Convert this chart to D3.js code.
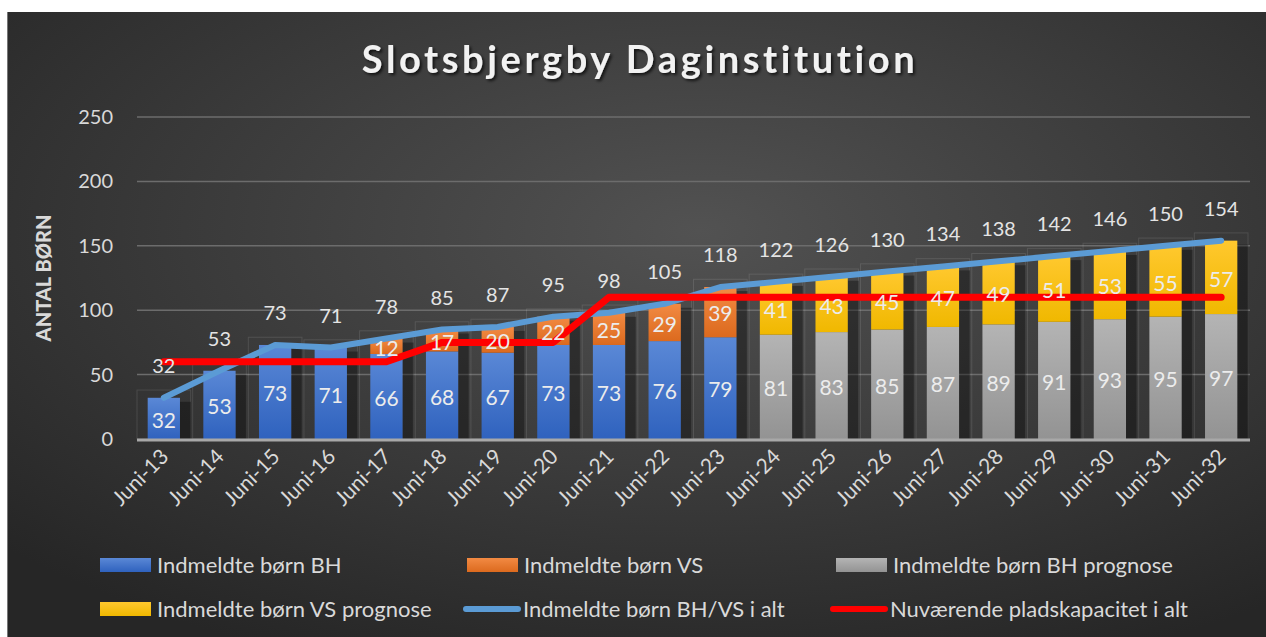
<!DOCTYPE html>
<html>
<head>
<meta charset="utf-8">
<script src="https://d3js.org/d3.v7.min.js"></script>
<style>
  body { margin: 0; background: #fff; }
  text { font-family: Lato, "Open Sans", sans-serif; }
</style>
</head>
<body>
<svg id="chart" width="1266" height="637"></svg>
<script>
// categories and series
const categories = ["Juni-13","Juni-14","Juni-15","Juni-16","Juni-17","Juni-18","Juni-19","Juni-20","Juni-21","Juni-22",
                    "Juni-23","Juni-24","Juni-25","Juni-26","Juni-27","Juni-28","Juni-29","Juni-30","Juni-31","Juni-32"];
const bh      = [32,53,73,71,66,68,67,73,73,76,79,0,0,0,0,0,0,0,0,0];
const vs      = [0,0,0,0,12,17,20,22,25,29,39,0,0,0,0,0,0,0,0,0];
const bhProg  = [0,0,0,0,0,0,0,0,0,0,0,81,83,85,87,89,91,93,95,97];
const vsProg  = [0,0,0,0,0,0,0,0,0,0,0,41,43,45,47,49,51,53,55,57];
const total   = [32,53,73,71,78,85,87,95,98,105,118,122,126,130,134,138,142,146,150,154];
const capacity= [60,60,60,60,60,75,75,75,110,110,110,110,110,110,110,110,110,110,110,110];
const yTicks  = [0,50,100,150,200,250];

const seriesNames = ["Indmeldte børn BH","Indmeldte børn VS","Indmeldte børn BH prognose",
                     "Indmeldte børn VS prognose","Indmeldte børn BH/VS i alt","Nuværende pladskapacitet i alt"];

const svg = d3.select("#chart");
const defs = svg.append("defs");

// background gradient
const bg = defs.append("radialGradient").attr("id","bg")
  .attr("cx","55%").attr("cy","35%").attr("r","75%");
bg.append("stop").attr("offset","0%").attr("stop-color","#525252");
bg.append("stop").attr("offset","100%").attr("stop-color","#262626");

function vgrad(id, top, bottom) {
  const g = defs.append("linearGradient").attr("id", id).attr("x1",0).attr("x2",0).attr("y1",0).attr("y2",1);
  g.append("stop").attr("offset","0%").attr("stop-color", top);
  g.append("stop").attr("offset","100%").attr("stop-color", bottom);
}
vgrad("gBH", "#5a88d6", "#2f62be");
vgrad("gVS", "#f28a43", "#dc6a1e");
vgrad("gBHP", "#b4b4b4", "#939393");
vgrad("gVSP", "#ffc82e", "#f0b800");

const shadow = defs.append("filter").attr("id","tshadow").attr("x","-10%").attr("y","-30%").attr("width","130%").attr("height","170%");
shadow.append("feDropShadow").attr("dx",2).attr("dy",2).attr("stdDeviation",1.5).attr("flood-color","#000").attr("flood-opacity",0.7);

svg.append("rect").attr("x",7).attr("y",12).attr("width",1259).attr("height",625).attr("fill","url(#bg)");
svg.append("line").attr("x1",7.5).attr("x2",7.5).attr("y1",12).attr("y2",637).attr("stroke","#777").attr("stroke-width",1);

const x = d3.scaleBand().domain(categories).range([136, 1249]).paddingInner(0.42).paddingOuter(0.21);
const y = d3.scaleLinear().domain([0, 250]).range([439, 117]);
const cx = d => x(d) + x.bandwidth() / 2;

// gridlines
svg.append("g").selectAll("line").data(yTicks.filter(t => t > 0)).join("line")
  .attr("x1",137).attr("x2",1250).attr("y1",d => y(d)).attr("y2",d => y(d))
  .attr("stroke","#6c6c6c").attr("stroke-width",1.5);

// faint 3D frame boxes behind bars
const step = x.step();
svg.append("g").selectAll("rect").data(categories).join("rect")
  .attr("x",(d,i) => cx(d) - step/2 + 1).attr("width", step - 2)
  .attr("y",(d,i) => y(total[i] + 6)).attr("height",(d,i) => y(0) - y(total[i] + 6))
  .attr("fill","none").attr("stroke","rgba(255,255,255,0.11)").attr("stroke-width",1);

// y axis labels
svg.append("g").selectAll("text").data(yTicks).join("text")
  .attr("x",113).attr("y",d => y(d)).attr("dy","0.35em").attr("text-anchor","end")
  .attr("fill","#d9d9d9").attr("font-size",20).text(d => d);

svg.append("text").attr("transform","translate(44,278) rotate(-90)")
  .attr("text-anchor","middle").attr("dy","0.35em")
  .attr("fill","#d9d9d9").attr("font-size",20).attr("font-weight","900").text("ANTAL BØRN");

// stacked bars
const stackKeys = ["bh","vs","bhProg","vsProg"];
const fills = {bh:"url(#gBH)", vs:"url(#gVS)", bhProg:"url(#gBHP)", vsProg:"url(#gVSP)"};
const rows = categories.map((c,i) => ({cat:c, bh:bh[i], vs:vs[i], bhProg:bhProg[i], vsProg:vsProg[i]}));
const stacked = d3.stack().keys(stackKeys)(rows);

// bar shadows
svg.append("g").selectAll("rect").data(categories).join("rect")
  .attr("x",d => x(d) + x.bandwidth()).attr("width",11)
  .attr("y",(d,i) => y(total[i]) + 4).attr("height",(d,i) => y(0) - y(total[i]) - 4)
  .attr("fill","rgba(0,0,0,0.35)");

const layers = svg.append("g").selectAll("g").data(stacked).join("g").attr("fill", d => fills[d.key]);
layers.selectAll("rect").data(d => d.filter(s => s[1] > s[0])).join("rect")
  .attr("x", d => x(d.data.cat)).attr("width", x.bandwidth())
  .attr("y", d => y(d[1])).attr("height", d => y(d[0]) - y(d[1]));

// baseline
svg.append("line").attr("x1",137).attr("x2",1250).attr("y1",440).attr("y2",440)
  .attr("stroke","#a8a8a8").attr("stroke-width",3);

// lines
const line = d3.line().x((d,i) => cx(categories[i])).y(d => y(d));
svg.append("path").datum(total).attr("d", line).attr("fill","none")
  .attr("stroke","#5b9bd5").attr("stroke-width",6).attr("stroke-linecap","round").attr("stroke-linejoin","round");
svg.append("path").datum(capacity).attr("d", line).attr("fill","none")
  .attr("stroke","#ff0000").attr("stroke-width",7).attr("stroke-linecap","round").attr("stroke-linejoin","round");

// segment labels (drawn above the lines)
svg.append("g").selectAll("g").data(stacked).join("g")
  .selectAll("text").data(d => d.filter(s => s[1] > s[0])).join("text")
  .attr("x", d => cx(d.data.cat)).attr("y", d => (y(d[0]) + y(d[1])) / 2 + 2)
  .attr("dy","0.35em").attr("text-anchor","middle")
  .attr("fill","#ececec").attr("font-size",21)
  .text(d => d[1] - d[0]);

// total labels
svg.append("g").selectAll("text").data(total).join("text")
  .attr("x",(d,i) => cx(categories[i])).attr("y", d => y(d) - 32).attr("dy","0.35em")
  .attr("text-anchor","middle").attr("fill","#e4e4e4").attr("font-size",20).text(d => d);

// x axis labels
svg.append("g").selectAll("text").data(categories).join("text")
  .attr("transform", d => `translate(${cx(d) + 6},${458}) rotate(-45)`)
  .attr("text-anchor","end").attr("fill","#d9d9d9").attr("font-size",21).text(d => d);

// title
svg.append("text").attr("x",640).attr("y",73).attr("text-anchor","middle")
  .attr("fill","#f2f2f2").attr("font-size",38).attr("font-weight","bold")
  .attr("letter-spacing",3.6).attr("filter","url(#tshadow)")
  .text("Slotsbjergby Daginstitution");

// legend
const legendItems = [
  {name:seriesNames[0], type:"rect", fill:"url(#gBH)", x:100, y:565},
  {name:seriesNames[1], type:"rect", fill:"url(#gVS)", x:467, y:565},
  {name:seriesNames[2], type:"rect", fill:"url(#gBHP)", x:836, y:565},
  {name:seriesNames[3], type:"rect", fill:"url(#gVSP)", x:100, y:609},
  {name:seriesNames[4], type:"line", color:"#5b9bd5", x:466, y:609},
  {name:seriesNames[5], type:"line", color:"#ff0000", x:833, y:609}
];
const lg = svg.append("g").selectAll("g").data(legendItems).join("g")
  .attr("transform", d => `translate(${d.x},${d.y})`);
lg.filter(d => d.type === "rect").append("rect")
  .attr("x",0).attr("y",-7).attr("width",51).attr("height",14).attr("fill", d => d.fill);
lg.filter(d => d.type === "line").append("line")
  .attr("x1",0).attr("x2",52).attr("y1",0).attr("y2",0)
  .attr("stroke", d => d.color).attr("stroke-width",6).attr("stroke-linecap","round");
lg.append("text").attr("x",57).attr("y",0).attr("dy","0.35em")
  .attr("fill","#d9d9d9").attr("font-size",22).text(d => d.name);
</script>
</body>
</html>
